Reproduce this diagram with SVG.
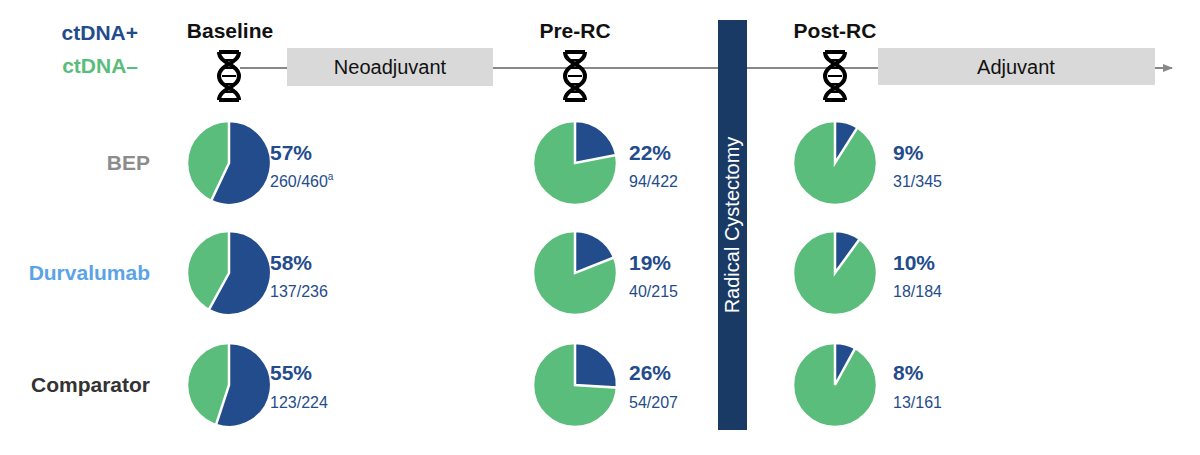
<svg xmlns="http://www.w3.org/2000/svg" width="1200" height="455" viewBox="0 0 1200 455">
<style>
text{font-family:"Liberation Sans",Arial,sans-serif}
.h{font-size:21px;font-weight:bold;fill:#111;text-anchor:middle}
.lbl{font-size:21px;font-weight:bold;text-anchor:end}
.pct{font-size:21px;font-weight:bold;fill:#244c8c}
.fr{font-size:16px;fill:#244c8c}
.box{fill:#d9d9d9}
.bt{font-size:20px;fill:#111;text-anchor:middle}
.g{fill:#5bbd7b;stroke:#fff;stroke-width:2.5}
.b{fill:#234c8c;stroke:#fff;stroke-width:2.5}
.dna{fill:none;stroke:#000;stroke-width:4}
</style>
<defs>
<marker id="ar" markerWidth="10" markerHeight="8" refX="9" refY="4" orient="auto" markerUnits="userSpaceOnUse"><path d="M0,0 L10,4 L0,8z" fill="#888"/></marker>
<g id="dnaicon">
<path class="dna" d="M-10,-24 L10,-24 M-10,24 L10,24 M-10,-24 C-10,-12 10,-12 10,0 C10,12 -10,12 -10,24 M10,-24 C10,-12 -10,-12 -10,0 C-10,12 10,12 10,24"/>
<path stroke="#000" stroke-width="2" d="M-6,-8 L6,-8 M-7,0 L7,0 M-6,8 L6,8 M-6,-16 L6,-16 M-6,16 L6,16"/>
</g>
</defs>
<text x="138" y="40" class="lbl" style="fill:#234c8c">ctDNA+</text>
<text x="138" y="73" class="lbl" style="fill:#5bbd7b">ctDNA–</text>
<g id="connectors">
<line x1="240" y1="68" x2="1172" y2="68" stroke="#888" stroke-width="2" marker-end="url(#ar)"/>
</g>
<g id="neo"><rect class="box" x="287" y="48" width="206" height="38"/><text class="bt" x="390" y="74">Neoadjuvant</text></g>
<g id="adj"><rect class="box" x="878" y="48" width="277" height="37"/><text class="bt" x="1016" y="74">Adjuvant</text></g>
<g id="rc"><rect x="718" y="20" width="29" height="410" fill="#1a3a66"/><text transform="translate(739,225) rotate(-90)" font-size="20" fill="#fff" text-anchor="middle">Radical Cystectomy</text></g>
<g id="baseline"><text class="h" x="230" y="38">Baseline</text><use href="#dnaicon" x="229" y="76"/></g>
<g id="prerc"><text class="h" x="575" y="38">Pre-RC</text><use href="#dnaicon" x="575" y="76"/></g>
<g id="postrc"><text class="h" x="835" y="38">Post-RC</text><use href="#dnaicon" x="835" y="76"/></g>
<text class="lbl" x="150" y="170" style="fill:#8c8c8c">BEP</text>
<text class="lbl" x="150" y="280" style="fill:#5ba3e8">Durvalumab</text>
<text class="lbl" x="150" y="392" style="fill:#333">Comparator</text>
<g id="p1">
<circle class="g" cx="229" cy="163" r="42"/>
<path class="b" d="M229,163 L229,121 A42,42 0 1 1 211.1,201 Z"/>
<text class="pct" x="270" y="160">57%</text><text class="fr" x="270" y="187">260/460<tspan font-size="10" dy="-7">a</tspan></text>
</g>
<g id="p2">
<circle class="g" cx="229" cy="273" r="42"/>
<path class="b" d="M229,273 L229,231 A42,42 0 1 1 208.8,309.8 Z"/>
<text class="pct" x="270" y="270">58%</text><text class="fr" x="270" y="297">137/236</text>
</g>
<g id="p3">
<circle class="g" cx="229" cy="385" r="42"/>
<path class="b" d="M229,385 L229,343 A42,42 0 1 1 216,424.9 Z"/>
<text class="pct" x="270" y="380">55%</text><text class="fr" x="270" y="408">123/224</text>
</g>
<g id="p4">
<circle class="g" cx="575" cy="163" r="42"/>
<path class="b" d="M575,163 L575,121 A42,42 0 0 1 616.2,155.1 Z"/>
<text class="pct" x="629" y="160">22%</text><text class="fr" x="629" y="187">94/422</text>
</g>
<g id="p5">
<circle class="g" cx="575" cy="273" r="42"/>
<path class="b" d="M575,273 L575,231 A42,42 0 0 1 614,257.5 Z"/>
<text class="pct" x="629" y="270">19%</text><text class="fr" x="629" y="297">40/215</text>
</g>
<g id="p6">
<circle class="g" cx="575" cy="385" r="42"/>
<path class="b" d="M575,385 L575,343 A42,42 0 0 1 616.9,387.6 Z"/>
<text class="pct" x="629" y="380">26%</text><text class="fr" x="629" y="408">54/207</text>
</g>
<g id="p7">
<circle class="g" cx="835" cy="163" r="42"/>
<path class="b" d="M835,163 L835,121 A42,42 0 0 1 857.5,127.5 Z"/>
<text class="pct" x="893" y="160">9%</text><text class="fr" x="893" y="187">31/345</text>
</g>
<g id="p8">
<circle class="g" cx="835" cy="273" r="42"/>
<path class="b" d="M835,273 L835,231 A42,42 0 0 1 859.7,239 Z"/>
<text class="pct" x="893" y="270">10%</text><text class="fr" x="893" y="297">18/184</text>
</g>
<g id="p9">
<circle class="g" cx="835" cy="385" r="42"/>
<path class="b" d="M835,385 L835,343 A42,42 0 0 1 855.2,348.2 Z"/>
<text class="pct" x="893" y="380">8%</text><text class="fr" x="893" y="408">13/161</text>
</g>
</svg>
